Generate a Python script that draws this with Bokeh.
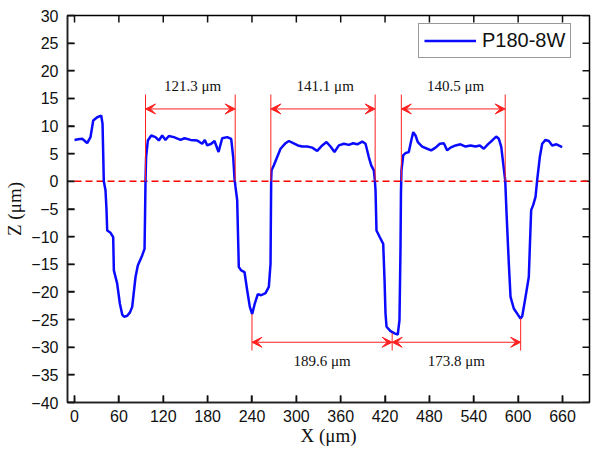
from bokeh.plotting import figure
from bokeh.embed import file_html
from bokeh.resources import INLINE
from bokeh.core.properties import value
from bokeh.models import (Range1d, FixedTicker,
                          Arrow, VeeHead, ColumnDataSource, Legend, LegendItem)

# ---------------- data ----------------
x_um = [0, 5, 10.4, 14, 17.1, 21.6, 25.3, 30.7, 36.1, 37.9, 38.8, 39.6, 41.9, 43.2, 44.2,
        48.7, 52.3, 53.2, 57.7, 61.3, 64.5, 67, 71.3, 75, 78.0, 82.5, 85.6, 91.5, 94.7,
        95.4, 96.0, 96.8, 99.2, 103.7, 109.5, 114, 118.6, 123, 127.6, 134.3, 143.4, 148.8,
        156.9, 165.9, 172.7, 176.2, 179.5, 184.9, 189.3, 194.8, 199.7, 206.5, 211.9, 214.6,
        216.4, 217.7, 220, 221, 222.2, 225.4, 229.9, 233.5, 237.1, 240.3, 243.8, 247.9,
        252.4, 258.3, 262.8, 265.1, 265.6, 266, 266.5, 269.6, 274.1, 278.6, 285.4, 289.9,
        295.8, 302.1, 307.9, 314.7, 321.5, 328.2, 335, 340.8, 346.2, 351.6, 357.5, 364.3,
        371, 376.9, 382.4, 389.1, 393.6, 398, 401.3, 404.8, 406.2, 407.1, 408.4, 412.9,
        417.5, 419.3, 420.6, 422, 427.4, 432.8, 437.2, 439.5, 440.9, 441.5, 442.2, 444.5,
        447.6, 452.1, 455.4, 458.1, 461.2, 464.3, 470.2, 477, 482.4, 488.3, 494.1, 499.5,
        504, 508.5, 515.3, 522, 528.8, 535.6, 542.3, 548.2, 553.6, 559, 564.9, 570.3,
        573.9, 577.2, 579.8, 582.5, 584.3, 587.4, 589.7, 594.1, 599.6, 603.2, 605.5, 610,
        614.4, 615.8, 617.6, 620.3, 623.5, 625.7, 629.3, 632.5, 637, 641.5, 646, 651.9,
        659.5]
z_um = [7.5, 7.6, 7.7, 7.3, 6.9, 8.0, 11.0, 11.6, 11.9, 10.4, 5.0, 0.0, -1.6, -5.0, -8.9,
        -9.3, -10.1, -16.1, -18.5, -22.1, -24.1, -24.5, -24.3, -23.7, -22.7, -17.3, -15.2,
        -13.4, -12.2, -6.0, 0.0, 4.4, 7.4, 8.3, 8.0, 7.4, 8.3, 7.5, 8.2, 8.0, 7.5, 7.8,
        7.5, 7.4, 6.8, 7.5, 6.5, 6.8, 7.3, 5.3, 7.8, 8.0, 7.7, 4.4,
        0.5, -1.0, -3.4, -9.0, -15.5, -16.1, -16.4, -19.7, -22.7, -24.0, -22.1, -20.4,
        -20.6, -20.2, -19.1, -14.9, -6.0, 0.5, 2.0, 2.9, 4.4, 5.9, 6.9, 7.3,
        6.9, 6.5, 6.3, 6.3, 6.1, 5.5, 6.5, 7.1, 6.3, 5.3, 6.5, 6.8,
        6.6, 6.9, 6.7, 7.2, 6.8, 4.4, 2.9, 2.0, 0.2, -1.6, -8.9, -10.1,
        -11.3, -17.9, -23.9, -26.3, -27.1, -27.5, -27.7, -25.1, -11.9, -2.0, 2.0, 4.7,
        5.1, 5.3, 7.4, 8.9, 8.3, 7.1, 6.3, 5.9, 5.6, 6.1, 6.8, 6.9,
        5.6, 6.1, 6.5, 6.7, 6.3, 6.5, 6.3, 6.5, 5.9, 6.7, 7.4, 8.1,
        7.7, 6.2, 3.2, 0.2, -5.8, -14.9, -20.9, -23.0, -24.1, -24.8, -24.4, -20.9,
        -17.3, -11.9, -5.2, -4.3, -2.8, 0.2, 4.4, 6.8, 7.5, 7.3, 6.5, 6.7,
        6.2]

x_ticks = [0, 60, 120, 180, 240, 300, 360, 420, 480, 540, 600, 660]
y_ticks = [-40, -35, -30, -25, -20, -15, -10, -5, 0, 5, 10, 15, 20, 25, 30]

# widths measured across the top of the ridges
top_left = [96.0, 265.5, 442.0]
top_width = [121.3, 141.1, 140.5]
# widths measured between the groove bottoms
bottom_left = [240.0, 429.6]
bottom_width = [189.6, 173.8]
groove_bottom_x = [240.0, 429.6, 603.4]
groove_bottom_z = [-24.0, -27.4, -24.8]

series_name = "P180-8W"

# ---------------- figure ----------------
X_LO, X_HI, Y_LO, Y_HI = -9.5, 696.5, -40, 30
FRAME_W, FRAME_H = 522, 387
p = figure(width=598, height=448,
           x_range=Range1d(X_LO, X_HI), y_range=Range1d(Y_LO, Y_HI),
           output_backend="svg", toolbar_location=None,
           min_border_left=67, min_border_top=15, min_border_right=9, min_border_bottom=46,
           background_fill_color="white", border_fill_color="white")
p.outline_line_color = "#000000"
p.outline_line_width = 1.5
p.xgrid.visible = False
p.ygrid.visible = False

for ax, ticks in ((p.xaxis[0], x_ticks), (p.yaxis[0], y_ticks)):
    ax.ticker = FixedTicker(ticks=ticks)
    ax.major_tick_in = 7
    ax.major_tick_out = 0
    ax.minor_tick_in = 0
    ax.minor_tick_out = 0
    ax.axis_line_color = "#222222"
    ax.axis_line_width = 1.5
    ax.major_tick_line_color = "#111111"
    ax.major_tick_line_width = 1.5
    ax.major_label_text_font = "Liberation Sans"
    ax.major_label_text_font_size = "16px"
    ax.major_label_text_color = "#111111"
    ax.axis_label_text_font = "Liberation Serif"
    ax.axis_label_text_font_size = "19px"
    ax.axis_label_text_font_style = "normal"
    ax.axis_label_text_color = "#111111"
p.xaxis.axis_label = "X (μm)"
p.yaxis.axis_label = "Z (μm)"
p.xaxis.major_label_standoff = 7
p.xaxis.axis_label_standoff = 0
p.yaxis.major_label_standoff = 9
p.yaxis.axis_label_standoff = 3

# inward ticks on all four sides (7 px long)
tick_px = 7
dx = tick_px * (X_HI - X_LO) / FRAME_W
dy = tick_px * (Y_HI - Y_LO) / FRAME_H
n_x, n_y = len(x_ticks), len(y_ticks)
p.segment(x0=x_ticks * 2, x1=x_ticks * 2,
          y0=[Y_LO] * n_x + [Y_HI] * n_x, y1=[Y_LO + dy] * n_x + [Y_HI - dy] * n_x,
          line_color="#111111", line_width=1.5)
p.segment(y0=y_ticks * 2, y1=y_ticks * 2,
          x0=[X_LO] * n_y + [X_HI] * n_y, x1=[X_LO + dx] * n_y + [X_HI - dx] * n_y,
          line_color="#111111", line_width=1.5)

# zero reference line
p.line([0, X_HI], [0, 0], line_color="#ff0000", line_width=1.5, line_dash="7 4")

# profile
r = p.line(x_um, z_um, line_color="#0a0aff", line_width=2.5)

# ---------------- annotations ----------------
red = "#ff2020"
top_right = [l + w for l, w in zip(top_left, top_width)]
bottom_right = [l + w for l, w in zip(bottom_left, bottom_width)]

top_vx = top_left + top_right
p.segment(x0=top_vx, y0=[0] * len(top_vx), x1=top_vx, y1=[15.7] * len(top_vx),
          line_color=red, line_width=1)
p.segment(x0=groove_bottom_x, y0=groove_bottom_z, x1=groove_bottom_x,
          y1=[-30.6] * len(groove_bottom_x), line_color=red, line_width=1)

top_src = ColumnDataSource(dict(x0=top_left, x1=top_right, y=[13.1] * 3))
bot_src = ColumnDataSource(dict(x0=bottom_left, x1=bottom_right, y=[-29.1] * 2))
for src in (top_src, bot_src):
    p.add_layout(Arrow(source=src, x_start="x0", x_end="x1", y_start="y", y_end="y",
                       line_color=red, line_width=1,
                       start=VeeHead(size=10, fill_color=red, line_color=red, line_width=1),
                       end=VeeHead(size=10, fill_color=red, line_color=red, line_width=1)))

top_labels = [f"{w} μm" for w in top_width]
bot_labels = [f"{w} μm" for w in bottom_width]
p.text(x=[(a + b) / 2 + 3 for a, b in zip(top_left, top_right)], y=[17.3] * 3, text=top_labels,
       text_font=value("Liberation Serif"), text_font_size=value("15px"),
       text_align="center", text_baseline="middle", text_color="#111111")
p.text(x=[(a + b) / 2 for a, b in zip(bottom_left, bottom_right)], y=[-32.5] * 2,
       text=bot_labels,
       text_font=value("Liberation Serif"), text_font_size=value("15px"),
       text_align="center", text_baseline="middle", text_color="#111111")

legend = Legend(items=[LegendItem(label=series_name, renderers=[r])],
                location=(351, 344), margin=0, padding=5,
                glyph_width=52, glyph_height=15, label_height=15,
                label_standoff=6, label_text_font="Liberation Sans",
                label_text_font_size="20px", label_text_color="#111111",
                border_line_color="#333333", border_line_width=1,
                background_fill_color="white", background_fill_alpha=1)
p.add_layout(legend)

open("out.html", "w").write(file_html(p, INLINE))
